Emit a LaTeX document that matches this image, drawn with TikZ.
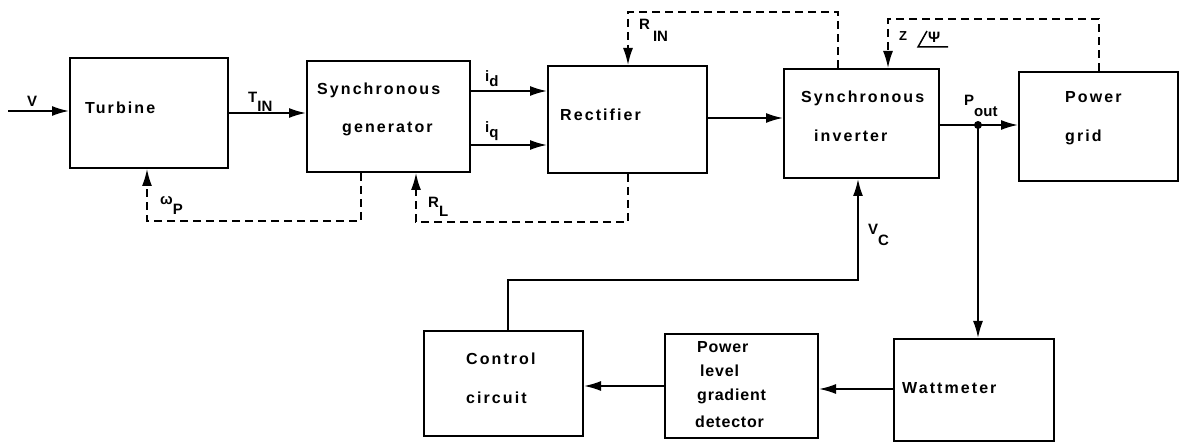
\documentclass[tikz,border=0pt]{standalone}
\usepackage{fontspec}
\setmainfont{Liberation Sans}
\newfontfamily\boxfont{Liberation Sans}[LetterSpace=13]
\newfontfamily\boxfontn{Liberation Sans}[LetterSpace=5]
\usetikzlibrary{arrows.meta,calc}
\begin{document}
\begin{tikzpicture}[x=1pt,y=-1pt,
  blk/.style={draw, line width=2pt, inner sep=0pt},
  btxt/.style={anchor=base west, inner sep=0pt, font=\boxfont\bfseries\fontsize{16}{19}\selectfont},
  btxtn/.style={anchor=base west, inner sep=0pt, font=\boxfontn\bfseries\fontsize{16}{19}\selectfont},
  lbl/.style={anchor=base west, inner sep=0pt, font=\bfseries\fontsize{15}{17}\selectfont},
  conn/.style={line width=1.8pt, -{Latex[length=17pt,width=10pt]}},
  plain/.style={line width=1.8pt},
  fb/.style={line width=1.6pt, dash pattern=on 8pt off 5pt, -{Latex[length=17pt,width=10pt]}}
]
\useasboundingbox (0,0) rectangle (1183,443);

% blocks
\node[blk, minimum width=158pt, minimum height=110pt] (turb) at (149,113) {};
\node[blk, minimum width=163pt, minimum height=111pt] (sg) at (388.5,116.5) {};
\node[blk, minimum width=159pt, minimum height=107pt] (rect) at (627.5,119.5) {};
\node[blk, minimum width=155pt, minimum height=109pt] (inv) at (861.5,123.5) {};
\node[blk, minimum width=159pt, minimum height=109pt] (grid) at (1098.5,126.5) {};
\node[blk, minimum width=159pt, minimum height=105pt] (ctrl) at (503.5,383.5) {};
\node[blk, minimum width=153pt, minimum height=104pt] (plgd) at (741.5,386) {};
\node[blk, minimum width=160pt, minimum height=102pt] (watt) at (974,390) {};

% block texts
\node[btxt] (tturb) at (85,114) {Turbine};
\node[btxt] (tsg1) at (317,95) {Synchronous};
\node[btxt] (tsg2) at (342,133) {generator};
\node[btxt] (trect) at (560,121) {Rectifier};
\node[btxt] (tinv1) at (801,103) {Synchronous};
\node[btxt] (tinv2) at (814,142) {inverter};
\node[btxt] (tgrid1) at (1065,103) {Power};
\node[btxt] (tgrid2) at (1065,142) {grid};
\node[btxt] (tctrl1) at (466,365) {Control};
\node[btxt] (tctrl2) at (466,403) {circuit};
\node[btxtn] (tp1) at (697,353) {Power};
\node[btxtn] (tp2) at (700,377) {level};
\node[btxtn] (tp3) at (697,400) {gradient};
\node[btxtn] (tp4) at (695,427) {detector};
\node[btxt] (twatt) at (902,393) {Wattmeter};

% signal labels
\node[lbl] (lv) at (27,107) {V};
\node[lbl] (ltin) at (248,103) {T\raisebox{-9pt}{IN}};
\node[lbl] (lw) at (160,205) {ω\raisebox{-10pt}{P}};
\node[lbl] (lid) at (485,82) {i\raisebox{-5pt}{d}};
\node[lbl] (liq) at (485,133) {i\raisebox{-5pt}{q}};
\node[lbl] (lrin) at (639,30) {R\hspace{3pt}\raisebox{-12pt}{IN}};
\node[lbl] (lrl) at (428,208) {R\raisebox{-9pt}{L}};
\node[lbl] (lpout) at (964,106) {P\raisebox{-11pt}{out}};
\node[lbl] (lvc) at (868,235) {V\raisebox{-11pt}{C}};
\node[lbl, font=\bfseries\fontsize{13}{15}\selectfont] (lz) at (899,41) {Z};
\node[lbl] (lpsi) at (928,43) {Ψ};
\draw[line width=1.5pt] (927,31) -- (918,47) -- (948,47);

% coordinates
\coordinate (vin) at (8,111);
\coordinate (pout) at (978,125);

% solid connectors
\draw[conn] (vin) -- (turb.west |- vin);
\draw[conn] (turb.east |- 0,113) -- (sg.west |- 0,113);
\draw[conn] (sg.east |- 0,91) -- (rect.west |- 0,91);
\draw[conn] (sg.east |- 0,145) -- (rect.west |- 0,145);
\draw[conn] (rect.east |- 0,118) -- (inv.west |- 0,118);
\draw[plain] (inv.east |- pout) -- (pout);
\draw[conn] (pout) -- (grid.west |- pout);
\draw[conn] (pout) -- (watt.north -| pout);
\fill (pout) circle (4pt);
\draw[conn] (watt.west |- 0,389) -- (plgd.east |- 0,389);
\draw[conn] (plgd.west |- 0,386) -- (ctrl.east |- 0,386);
\draw[conn] (ctrl.north -| 508,0) -- (508,280) -- (858,280) -- (inv.south -| 858,0);

% dashed feedback
\draw[fb] (sg.south -| 361,0) -- (361,221) -- (147,221) -- (turb.south -| 147,0);
\draw[fb] (rect.south -| 628,0) -- (628,222) -- (416,222) -- (sg.south -| 416,0);
\draw[fb] (inv.north -| 838,0) -- (838,12) -- (628,12) -- (rect.north -| 628,0);
\draw[fb] (grid.north -| 1099,0) -- (1099,19) -- (888,19) -- (inv.north -| 888,0);
\end{tikzpicture}
\end{document}
